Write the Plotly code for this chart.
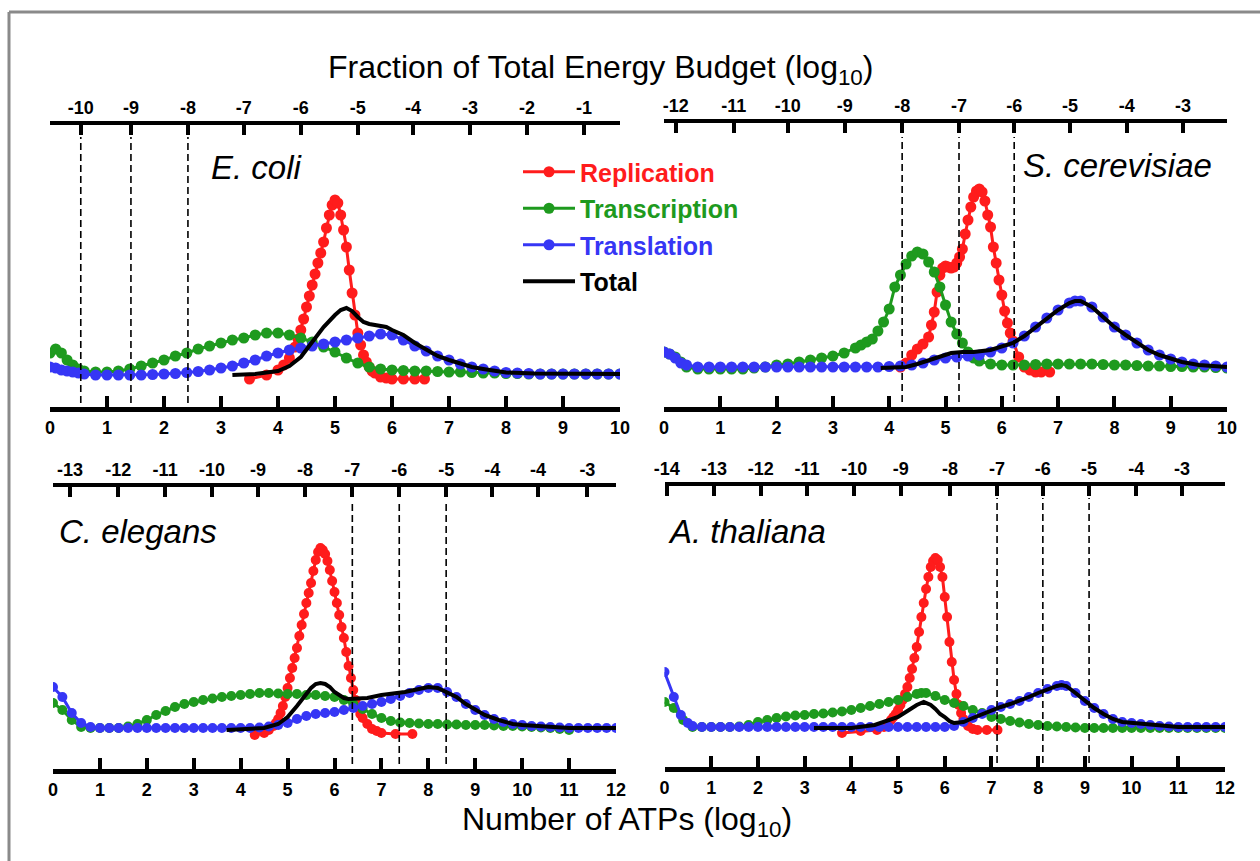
import plotly.graph_objects as go

W, H = 1260, 861

# ---------------- data (x = log10 number of ATPs, y = relative frequency) ----------------
ecoli_replication = [(3.5,-4),(3.8,0),(4.0,5),(4.1,10),(4.2,17),(4.3,28),(4.35,36),(4.4,45),(4.45,56),(4.5,68),(4.55,79),(4.6,90),(4.65,101),(4.7,112),(4.75,122),(4.8,133),(4.85,147),(4.9,160),(4.95,170),(5.0,175),(5.05,172),(5.1,160),(5.15,145),(5.2,128),(5.25,105),(5.3,82),(5.35,60),(5.4,42),(5.45,30),(5.5,20),(5.55,13),(5.6,8),(5.65,4),(5.7,2),(5.8,-2),(5.9,-3),(6.0,-4),(6.2,-4),(6.4,-4),(6.57,-4)]
ecoli_transcription = [(0.0,22),(0.1,26),(0.2,22),(0.3,15),(0.4,10),(0.5,6),(0.6,4),(0.8,3),(1.0,3),(1.2,4),(1.4,6),(1.6,9),(1.8,12),(2.0,15),(2.2,19),(2.4,22),(2.6,26),(2.8,29),(3.0,32),(3.2,35),(3.4,37),(3.6,40),(3.8,42),(4.0,42),(4.2,40),(4.4,37),(4.6,33),(4.8,28),(5.0,23),(5.2,17),(5.4,12),(5.6,8),(5.8,6),(6.0,5),(6.2,4.5),(6.4,4),(6.6,4),(6.8,3.5),(7.0,3),(7.2,3),(7.4,2.5),(7.6,2),(7.8,2),(8.0,1.5),(8.2,1.5),(8.4,1),(8.6,1),(8.8,1),(9.0,1),(9.2,1),(9.4,1),(9.6,1),(9.8,1),(10.0,1)]
ecoli_translation = [(0.0,8),(0.1,7),(0.2,5),(0.3,4),(0.4,3),(0.5,2),(0.6,1),(0.8,0),(1.0,0),(1.2,0),(1.4,0),(1.6,0),(1.8,0.5),(2.0,1),(2.2,1.5),(2.4,2.5),(2.6,3.5),(2.8,5),(3.0,7),(3.2,9),(3.4,12),(3.6,15),(3.8,19),(4.0,22),(4.2,25),(4.4,27),(4.6,29),(4.8,31),(5.0,33),(5.2,35),(5.4,37),(5.6,39),(5.8,41),(6.0,40),(6.2,35),(6.4,29),(6.6,24),(6.8,19),(7.0,15),(7.2,11),(7.4,8),(7.6,6),(7.8,4),(8.0,2.5),(8.2,2),(8.4,1.5),(8.6,1),(8.8,1),(9.0,1),(9.2,1),(9.4,1),(9.6,1),(9.8,1),(10.0,1)]
ecoli_total = [(3.2,0),(3.6,1),(4.0,4),(4.2,9),(4.4,18),(4.6,33),(4.8,48),(5.0,60),(5.1,65),(5.2,67),(5.3,64),(5.4,58),(5.5,53),(5.6,51),(5.7,50),(5.8,49),(5.9,48),(6.0,45),(6.2,40),(6.4,32),(6.6,25),(6.8,19),(7.0,15),(7.2,11),(7.4,8),(7.6,6),(7.8,4),(8.0,2.5),(8.5,1.5),(9.0,1),(10.0,1)]

scer_replication = [(4.2,0),(4.3,4),(4.4,12),(4.5,18),(4.6,23),(4.7,30),(4.75,42),(4.8,55),(4.85,75),(4.9,92),(4.95,99),(5.0,101),(5.05,100),(5.1,99),(5.15,100),(5.2,104),(5.25,110),(5.3,118),(5.35,133),(5.4,147),(5.45,160),(5.5,170),(5.55,176),(5.6,178),(5.65,175),(5.7,166),(5.75,152),(5.8,140),(5.85,120),(5.9,104),(5.95,87),(6.0,72),(6.05,56),(6.1,44),(6.15,34),(6.2,26),(6.3,10),(6.4,0),(6.5,-3),(6.6,-5),(6.7,-5),(6.85,-5)]
scer_transcription = [(0.0,15),(0.1,13),(0.2,10),(0.3,5),(0.4,0),(0.6,-2),(0.8,-2),(1.0,-2),(1.2,-2),(1.4,-2),(1.6,-1),(1.8,0),(2.0,2),(2.2,3),(2.4,5),(2.6,7),(2.8,9),(3.0,11),(3.2,14),(3.4,19),(3.5,22),(3.6,25),(3.7,28),(3.8,36),(3.9,45),(4.0,58),(4.1,80),(4.2,92),(4.3,103),(4.4,111),(4.5,115),(4.6,113),(4.7,105),(4.8,95),(4.9,80),(5.0,62),(5.1,45),(5.2,33),(5.3,24),(5.4,15),(5.5,9),(5.6,6),(5.8,3),(6.0,2),(6.2,2),(6.4,2),(6.6,2.5),(6.8,3),(7.0,3),(7.2,3),(7.4,3),(7.6,3),(7.8,2.5),(8.0,2),(8.2,2),(8.4,1.5),(8.6,1),(8.8,1),(9.0,0.5),(9.2,0.5),(9.4,0),(9.6,0),(9.8,-0.5),(10.0,-1)]
scer_translation = [(0.0,15),(0.1,13),(0.2,9),(0.3,4),(0.4,2),(0.6,0),(0.8,0),(1.0,0),(1.2,0),(1.4,0),(1.6,0),(1.8,0),(2.0,0),(2.2,0),(2.4,0),(2.6,0),(2.8,0),(3.0,0),(3.2,0),(3.4,0),(3.6,0),(3.8,0),(4.0,0.5),(4.2,1),(4.4,2),(4.6,4),(4.8,7),(5.0,9),(5.2,10),(5.4,11),(5.6,12),(5.8,15),(6.0,19),(6.2,24),(6.4,31),(6.6,40),(6.8,49),(7.0,57),(7.2,64),(7.3,66),(7.4,66),(7.6,60),(7.8,50),(8.0,40),(8.2,32),(8.4,24),(8.6,17),(8.8,12),(9.0,8),(9.2,5),(9.4,3),(9.6,2),(9.8,1),(10.0,0)]
scer_total = [(3.85,-1),(4.3,0),(4.5,3),(4.7,7),(4.9,11),(5.1,14),(5.3,15),(5.5,15),(5.8,17),(6.0,20),(6.2,24),(6.4,31),(6.6,40),(6.8,49),(7.0,57),(7.2,64),(7.3,66),(7.4,66),(7.6,60),(7.8,50),(8.0,40),(8.2,32),(8.4,24),(8.6,17),(8.8,12),(9.0,8),(9.2,5),(9.5,2),(10.0,0)]

cele_replication = [(4.3,-7),(4.5,-5),(4.6,-2),(4.7,2),(4.75,5),(4.8,9),(4.85,15),(4.9,22),(4.95,31),(5.0,40),(5.05,50),(5.1,60),(5.15,70),(5.2,80),(5.25,92),(5.3,103),(5.35,114),(5.4,125),(5.45,135),(5.5,145),(5.55,157),(5.6,168),(5.65,176),(5.7,180),(5.75,178),(5.8,174),(5.85,167),(5.9,158),(5.95,147),(6.0,136),(6.05,125),(6.1,113),(6.15,101),(6.2,90),(6.25,76),(6.3,62),(6.35,50),(6.4,38),(6.45,28),(6.5,20),(6.55,14),(6.6,10),(6.7,4),(6.8,-1),(6.9,-3),(7.0,-5),(7.3,-6),(7.66,-6)]
cele_transcription = [(0.0,25),(0.2,18),(0.4,8),(0.6,1),(0.8,0),(1.0,0),(1.2,0),(1.4,0),(1.6,1.5),(1.8,4),(2.0,8),(2.2,13),(2.4,17),(2.6,21),(2.8,24),(3.0,26),(3.2,28),(3.4,29.5),(3.6,31),(3.8,32),(4.0,33),(4.2,34),(4.4,35),(4.6,35),(4.8,34.5),(5.0,34),(5.2,34),(5.4,33),(5.6,33),(5.8,32),(6.0,31),(6.2,28),(6.4,24),(6.6,19),(6.8,14),(7.0,10),(7.2,7),(7.4,5.5),(7.6,5),(7.8,4.5),(8.0,4),(8.2,4),(8.4,3.5),(8.6,3.5),(8.8,3),(9.0,3),(9.2,3),(9.4,2.5),(9.6,2),(9.8,2),(10.0,1.5),(10.2,1),(10.4,0.5),(10.6,0),(10.8,-1),(11.0,-2)]
cele_translation = [(0.0,41),(0.2,31),(0.4,15),(0.6,5),(0.8,1),(1.0,0),(1.2,0),(1.4,0),(1.6,0),(1.8,0),(2.0,0),(2.2,0),(2.4,0),(2.6,0),(2.8,0),(3.0,0),(3.2,0),(3.4,0),(3.6,0),(3.8,0),(4.0,0),(4.2,0),(4.4,0.5),(4.6,1.5),(4.8,3),(5.0,5),(5.2,9),(5.4,12),(5.6,14),(5.8,15),(6.0,16),(6.2,18),(6.4,20),(6.6,22),(6.8,24),(7.0,26),(7.2,29),(7.4,32),(7.6,35),(7.8,38),(8.0,40),(8.2,40),(8.4,36),(8.6,31),(8.8,24),(9.0,18),(9.2,13),(9.4,9),(9.6,6),(9.8,4),(10.0,3),(10.2,2),(10.4,1.5),(10.6,1),(10.8,0.5),(11.0,0),(11.2,0),(11.4,0),(11.6,0),(11.8,0),(12.0,0)]
cele_total = [(3.7,-2),(4.0,-1),(4.5,0),(4.8,4),(5.0,11),(5.2,22),(5.3,28),(5.4,35),(5.5,40),(5.6,44),(5.7,45),(5.8,44),(5.9,41),(6.0,36),(6.1,33),(6.2,30),(6.3,29),(6.5,29),(6.7,30),(7.0,33),(7.5,36),(7.8,39),(8.0,41),(8.2,40),(8.4,36),(8.6,31),(8.8,24),(9.0,18),(9.2,13),(9.5,8),(9.8,4),(10.0,3),(10.5,1),(11.0,0),(12.0,0)]

atha_replication = [(3.8,-6),(4.2,-4),(4.55,-3),(4.7,0),(4.8,4),(4.85,7),(4.9,10),(4.95,13),(5.0,17),(5.05,22),(5.1,27),(5.15,33),(5.2,40),(5.25,49),(5.3,58),(5.35,69),(5.4,80),(5.45,95),(5.5,110),(5.55,124),(5.6,138),(5.65,150),(5.7,160),(5.75,166),(5.8,169),(5.85,167),(5.9,160),(5.95,150),(6.0,130),(6.05,110),(6.1,85),(6.15,65),(6.2,47),(6.25,33),(6.3,22),(6.35,14),(6.4,8),(6.5,1),(6.6,-2),(6.7,-3),(6.9,-3),(7.13,-3)]
atha_transcription = [(0.0,25),(0.2,19),(0.4,7),(0.6,0),(0.8,0),(1.0,0),(1.2,0),(1.4,0),(1.6,0.5),(1.8,2),(2.0,5),(2.2,7),(2.4,9),(2.6,10.5),(2.8,11.5),(3.0,12),(3.2,13),(3.4,13.5),(3.6,14.5),(3.8,15.5),(4.0,17),(4.2,19),(4.4,21),(4.6,23),(4.8,25),(5.0,27),(5.2,30),(5.4,33),(5.5,34),(5.6,34),(5.8,31),(6.0,27),(6.2,24),(6.4,21),(6.6,17),(6.8,14),(7.0,10),(7.2,8),(7.4,6),(7.6,4.5),(7.8,3),(8.0,2),(8.2,1),(8.4,0.5),(8.6,0),(8.8,-0.5),(9.0,-1),(9.2,-1),(9.4,-1),(9.6,-1),(9.8,-1),(10.0,-1),(10.2,-1),(10.4,-1),(10.6,-1),(10.8,-1),(11.0,-1),(11.2,-1),(11.4,-1),(11.6,-1),(11.8,-1),(12.0,-1)]
atha_translation = [(0.0,55),(0.2,30),(0.35,12),(0.5,4),(0.6,1),(0.8,0),(1.0,0),(1.2,0),(1.4,0),(1.6,0),(1.8,0),(2.0,0),(2.2,0),(2.4,0),(2.6,0),(2.8,0),(3.0,0),(3.2,0),(3.4,0),(3.6,0),(3.8,0),(4.0,0),(4.2,0),(4.4,0),(4.6,0),(4.8,0),(5.0,0),(5.2,0),(5.4,0),(5.6,0),(5.8,0),(6.0,0),(6.2,1),(6.4,5),(6.6,9),(6.8,13),(7.0,17),(7.2,20),(7.4,23),(7.6,26),(7.8,30),(8.0,34),(8.2,38),(8.4,41),(8.5,42),(8.6,41),(8.8,34),(9.0,26),(9.2,19),(9.4,13),(9.6,8),(9.8,5),(10.0,4),(10.2,3),(10.4,2),(10.6,1),(10.8,0.5),(11.0,0),(11.2,0),(11.4,0),(11.6,0),(11.8,0),(12.0,0)]
atha_total = [(3.2,-1),(3.6,-1),(4.0,-1),(4.5,2),(5.0,10),(5.2,16),(5.4,22),(5.55,25),(5.7,22),(5.8,18),(5.9,13),(6.0,10),(6.1,6),(6.2,4),(6.3,4),(6.4,5),(6.6,9),(6.8,13),(7.0,17),(7.2,20),(7.4,23),(7.6,26),(7.8,30),(8.0,34),(8.2,38),(8.4,41),(8.5,42),(8.6,41),(8.8,34),(9.0,26),(9.2,19),(9.4,13),(9.6,8),(9.8,5),(10.0,4),(10.5,1.5),(11.0,0),(12.0,0)]

# bottom axis ticks (Number of ATPs, log10)
bottom_ticks_10 = [0, 1, 2, 3, 4, 5, 6, 7, 8, 9, 10]
bottom_ticks_12 = [0, 1, 2, 3, 4, 5, 6, 7, 8, 9, 10, 11, 12]

# top axis (fraction of total energy budget, log10): labels and their positions on the ATP axis
ecoli_top_labels = ["-10", "-9", "-8", "-7", "-6", "-5", "-4", "-3", "-2", "-1"]
ecoli_top_pos = [0.54, 1.42, 2.42, 3.40, 4.40, 5.40, 6.37, 7.37, 8.37, 9.37]
scer_top_labels = ["-12", "-11", "-10", "-9", "-8", "-7", "-6", "-5", "-4", "-3"]
scer_top_pos = [0.21, 1.24, 2.20, 3.21, 4.23, 5.24, 6.22, 7.21, 8.22, 9.22]
cele_top_labels = ["-13", "-12", "-11", "-10", "-9", "-8", "-7", "-6", "-5", "-4", "-4", "-3"]
cele_top_pos = [0.36, 1.39, 2.39, 3.39, 4.37, 5.37, 6.38, 7.38, 8.38, 9.36, 10.34, 11.39]
atha_top_labels = ["-14", "-13", "-12", "-11", "-10", "-9", "-8", "-7", "-6", "-5", "-4", "-3"]
atha_top_pos = [0.05, 1.06, 2.06, 3.05, 4.06, 5.06, 6.11, 7.12, 8.10, 9.09, 10.10, 11.08]

# dashed reference lines (at these top-axis labels)
ecoli_dashed = ["-10", "-9", "-8"]
scer_dashed = ["-8", "-7", "-6"]
cele_dashed = ["-7", "-6", "-5"]
atha_dashed = ["-7", "-6", "-5"]

series_names = ["Replication", "Transcription", "Translation", "Total"]

# ---------------- styling / layout geometry ----------------
COLORS = {"Replication": "#ff1c1c", "Transcription": "#1e9a1e", "Translation": "#3636f5", "Total": "#000000"}
FONT = "Liberation Sans, Arial, sans-serif"

panels = [
    dict(sp="E. coli", data=[ecoli_replication, ecoli_transcription, ecoli_translation, ecoli_total],
         xr=10, bticks=bottom_ticks_10, tl=ecoli_top_labels, tp=ecoli_top_pos, dash=ecoli_dashed,
         px=(50, 620), py=(125, 407), base=375, dash_py=(137, 403), msize=11,
         title_xy=(209, 168)),
    dict(sp="S. cerevisiae", data=[scer_replication, scer_transcription, scer_translation, scer_total],
         xr=10, bticks=bottom_ticks_10, tl=scer_top_labels, tp=scer_top_pos, dash=scer_dashed,
         px=(664, 1227), py=(123, 407), base=367, dash_py=(137, 402), msize=11,
         title_xy=(1021, 166)),
    dict(sp="C. elegans", data=[cele_replication, cele_transcription, cele_translation, cele_total],
         xr=12, bticks=bottom_ticks_12, tl=cele_top_labels, tp=cele_top_pos, dash=cele_dashed,
         px=(53, 616), py=(487, 769), base=728, dash_py=(503, 764), msize=10,
         title_xy=(57, 531)),
    dict(sp="A. thaliana", data=[atha_replication, atha_transcription, atha_translation, atha_total],
         xr=12, bticks=bottom_ticks_12, tl=atha_top_labels, tp=atha_top_pos, dash=atha_dashed,
         px=(664.5, 1225), py=(486, 767), base=727, dash_py=(498, 763), msize=10,
         title_xy=(666, 531)),
]

def fx(p):
    return p / W

def fy(p):
    return 1 - p / H

fig = go.Figure()
layout = dict(width=W, height=H, autosize=False,
              margin=dict(l=0, r=0, t=0, b=0, pad=0, autoexpand=False),
              paper_bgcolor="white", plot_bgcolor="rgba(0,0,0,0)", showlegend=True)
shapes = []
annotations = []

tickfont = dict(family=FONT, size=18, color="black", weight="bold")

for i, p in enumerate(panels):
    xb = "x" if i == 0 else f"x{2*i+1}"
    xt = f"x{2*i+2}"
    yy = "y" if i == 0 else f"y{i+1}"
    xb_name = "xaxis" if i == 0 else f"xaxis{2*i+1}"
    xt_name = f"xaxis{2*i+2}"
    yy_name = "yaxis" if i == 0 else f"yaxis{i+1}"
    dom_x = [fx(p["px"][0]), fx(p["px"][1])]
    dom_y = [fy(p["py"][1]), fy(p["py"][0])]
    yr = [p["base"] - p["py"][1], p["base"] - p["py"][0]]

    layout[xb_name] = dict(domain=dom_x, range=[0, p["xr"]], anchor=yy, showgrid=False, zeroline=False,
                           showline=True, linecolor="black", linewidth=5, ticks="inside", ticklen=11,
                           tickwidth=4, tickcolor="black", tickvals=p["bticks"], tickfont=tickfont,
                           fixedrange=True, automargin=False)
    layout[xt_name] = dict(domain=dom_x, range=[0, p["xr"]], anchor=yy, overlaying=xb, side="top",
                           showgrid=False, zeroline=False, showline=True, linecolor="black", linewidth=4,
                           ticks="inside", ticklen=10, tickwidth=3.5, tickcolor="black",
                           tickvals=p["tp"], ticktext=p["tl"], tickfont=tickfont, fixedrange=True,
                           automargin=False)
    layout[yy_name] = dict(domain=dom_y, range=yr, anchor=xb, visible=False, fixedrange=True,
                           automargin=False)

    for name, series in zip(series_names, p["data"]):
        xs = [pt[0] for pt in series]
        ys = [pt[1] for pt in series]
        col = COLORS[name]
        label = f"<span style='color:{col}'>{name}</span>"
        if name == "Total":
            tr = go.Scatter(x=xs, y=ys, mode="lines", line=dict(color=col, width=4),
                            name=label, legendgroup=name, showlegend=(i == 0),
                            xaxis=xb, yaxis=yy, hoverinfo="skip")
        else:
            tr = go.Scatter(x=xs, y=ys, mode="lines+markers", line=dict(color=col, width=3),
                            marker=dict(color=col, size=p["msize"], line=dict(width=0)),
                            name=label, legendgroup=name, showlegend=(i == 0),
                            xaxis=xb, yaxis=yy, hoverinfo="skip")
        fig.add_trace(tr)

    # invisible carrier trace so the top (energy-budget) axis is drawn
    fig.add_trace(go.Scatter(x=p["tp"], y=[yr[0]] * len(p["tp"]), mode="markers",
                             marker=dict(opacity=0, size=1), showlegend=False, hoverinfo="skip",
                             xaxis=xt, yaxis=yy))

    # dashed reference lines at selected top-axis labels
    for lab in p["dash"]:
        xv = p["tp"][p["tl"].index(lab)]
        shapes.append(dict(type="line", xref=xb, yref="paper", x0=xv, x1=xv,
                           y0=fy(p["dash_py"][1]), y1=fy(p["dash_py"][0]),
                           line=dict(color="black", width=1.6, dash="7px,4px")))

    annotations.append(dict(text=f"<i>{p['sp']}</i>", xref="paper", yref="paper",
                            x=fx(p["title_xy"][0]), y=fy(p["title_xy"][1]), xanchor="left", yanchor="middle",
                            showarrow=False, font=dict(family=FONT, size=33, color="black")))

annotations.append(dict(text="Fraction of Total Energy Budget (log<sub>10</sub>)", xref="paper", yref="paper",
                        x=fx(600), y=fy(69), xanchor="center", yanchor="middle", showarrow=False,
                        font=dict(family=FONT, size=32, color="black")))
annotations.append(dict(text="Number of ATPs (log<sub>10</sub>)", xref="paper", yref="paper",
                        x=fx(627), y=fy(821), xanchor="center", yanchor="middle", showarrow=False,
                        font=dict(family=FONT, size=32, color="black")))

# outer frame (top and left edges)
shapes.append(dict(type="line", xref="paper", yref="paper", x0=fx(9), x1=1, y0=fy(12), y1=fy(12),
                   line=dict(color="#8a8a8a", width=3)))
shapes.append(dict(type="line", xref="paper", yref="paper", x0=fx(9), x1=fx(9), y0=0, y1=fy(12),
                   line=dict(color="#8a8a8a", width=3)))

layout["shapes"] = shapes
layout["annotations"] = annotations
layout["legend"] = dict(x=fx(518), y=fy(149), xanchor="left", yanchor="top", bgcolor="rgba(0,0,0,0)",
                        borderwidth=0, font=dict(family=FONT, size=25, weight="bold"),
                        tracegroupgap=1, itemwidth=52)
fig.update_layout(**layout)

fig.write_html("out.html", config={"displayModeBar": False, "responsive": False},
               post_script="document.body.style.margin='0';document.body.style.overflow='hidden';")
